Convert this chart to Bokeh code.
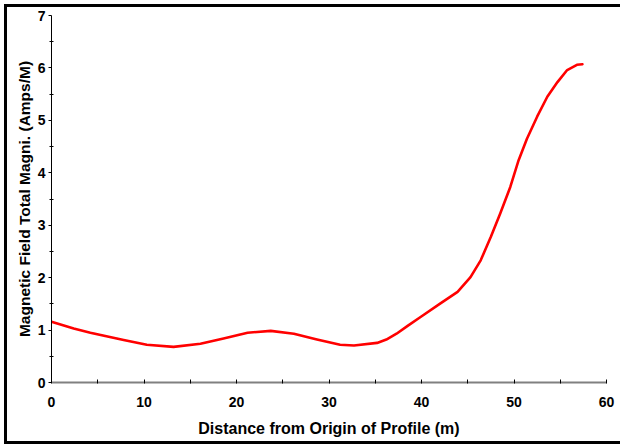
from bokeh.plotting import figure
from bokeh.embed import file_html
from bokeh.resources import INLINE
from bokeh.models import FixedTicker, Range1d

# Data
distance = [0, 2.4, 4.2, 7.8, 10.3, 13.2, 16.1, 18.6, 21.2, 23.7, 26.2, 28.7, 31.2,
            32.7, 35.2, 36.2, 37.3, 38.5, 39.9, 42.05, 43.9, 45.3, 46.4, 47.5, 48.5,
            49.6, 50.5, 51.4, 52.5, 53.6, 54.7, 55.75, 56.8, 57.4]
magnitude = [1.16, 1.03, 0.95, 0.81, 0.72, 0.68, 0.74, 0.84, 0.95, 0.985, 0.93, 0.82,
             0.72, 0.705, 0.755, 0.82, 0.93, 1.08, 1.25, 1.51, 1.73, 2.01, 2.33, 2.78,
             3.22, 3.73, 4.24, 4.65, 5.07, 5.45, 5.73, 5.96, 6.06, 6.07]
x_ticks = [0, 10, 20, 30, 40, 50, 60]
y_ticks = [0, 1, 2, 3, 4, 5, 6, 7]

p = figure(width=616, height=440, output_backend="svg", toolbar_location=None,
           x_range=Range1d(0, 60), y_range=Range1d(0, 7),
           min_border_left=44, min_border_right=17, min_border_top=8, min_border_bottom=65)
p.styles = {"border-left": "3px solid black", "border-top": "3px solid black",
            "border-bottom": "3px solid black", "border-right": "0px none",
            "margin-left": "4px", "margin-top": "4px"}
p.outline_line_color = None
p.xgrid.visible = False
p.ygrid.visible = False

p.line(distance, magnitude, line_color="#ff0000", line_width=2.6,
       line_join="round", line_cap="round")

FONT = "Liberation Sans"
p.xaxis.ticker = FixedTicker(ticks=x_ticks, minor_ticks=[5, 15, 25, 35, 45, 55])
p.yaxis.ticker = FixedTicker(ticks=y_ticks, minor_ticks=[0.5 + i for i in range(7)])

for ax in (p.xaxis[0], p.yaxis[0]):
    ax.major_label_text_font = FONT
    ax.major_label_text_font_style = "bold"
    ax.major_label_text_font_size = "14px"
    ax.major_label_text_color = "black"
    ax.axis_label_text_font = FONT
    ax.axis_label_text_font_style = "bold"
    ax.axis_label_text_color = "black"
    ax.major_tick_line_color = "black"
    ax.minor_tick_line_color = "black"

p.xaxis.axis_label = "Distance from Origin of Profile (m)"
p.xaxis.axis_label_text_font_size = "16px"
p.xaxis.axis_line_color = "#808080"
p.xaxis.axis_line_width = 2
p.xaxis.major_tick_in = 3
p.xaxis.major_tick_out = 1
p.xaxis.minor_tick_in = 3
p.xaxis.minor_tick_out = 1
p.xaxis.major_label_standoff = 13
p.xaxis.axis_label_standoff = 10

p.yaxis.axis_label = "Magnetic Field Total Magni. (Amps/M)"
p.yaxis.axis_label_text_font_size = "15.5px"
p.yaxis.axis_line_color = "black"
p.yaxis.axis_line_width = 1
p.yaxis.major_tick_in = 0
p.yaxis.major_tick_out = 3
p.yaxis.minor_tick_in = 2
p.yaxis.minor_tick_out = 2
p.yaxis.major_label_standoff = 3
p.yaxis.axis_label_standoff = 2

open("out.html", "w").write(file_html(p, INLINE))
